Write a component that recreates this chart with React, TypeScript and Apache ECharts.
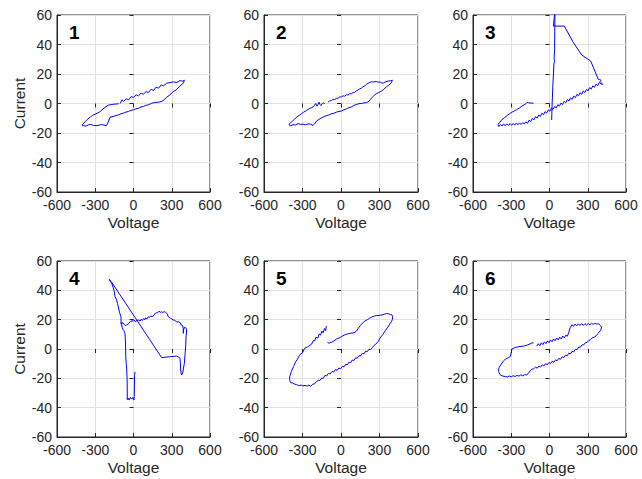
import React, { useEffect, useRef } from "react";
import * as echarts from "echarts";

const FONT = '"Liberation Sans", Arial, Helvetica, sans-serif';

const panelLabels = ["1", "2", "3", "4", "5", "6"];
const xName = "Voltage";
const yName = "Current";
const xRange = [-600, 600, 300];
const yRange = [-60, 60, 20];

const curve1: number[][] = [
  [-104, 0], [-91, 2.5], [-78, 1.4], [-57, 3.2], [-39, 2.5], [-18, 4.7], [0, 4.1], [21, 5.9], [39, 5.2],
  [60, 7.0], [78, 6.3], [99, 8.1], [117, 7.4], [138, 9.7], [157, 8.8], [177, 11.1], [196, 10.4],
  [217, 12.6], [235, 12.0], [261, 13.8], [287, 14.2], [313, 14.7], [339, 14.2], [365, 15.6], [386, 15.1],
  [399, 15.8], [391, 13.8], [365, 12], [339, 9.5], [313, 8.1], [285, 5.8], [261, 4.3], [240, 2.6], [222, 1.4],
  [196, 0.9], [170, 0.7], [143, 0.2], [117, -0.9], [97, -1.2], [78, -2], [58, -2.4], [39, -3.2], [18, -3.6],
  [0, -4.3], [-20, -4.7], [-39, -5.4], [-58, -5.8], [-78, -6.5], [-98, -7.0], [-117, -7.7], [-137, -8.1],
  [-157, -8.8], [-183, -9.2], [-204, -13.8], [-214, -15.1], [-238, -14.4], [-261, -14.4], [-287, -15.0],
  [-313, -14.9], [-335, -14.2], [-352, -14.4], [-372, -15.3], [-391, -15.1], [-404, -14.7],
  [-378, -12.2], [-358, -10.5], [-339, -9.2], [-320, -8.0], [-300, -7.2], [-281, -6.5], [-261, -5.4],
  [-240, -3.8], [-222, -2.5], [-196, -1.1], [-157, -0.5], [-117, -0.2],
];

const curve2: number[][] = [
  [-101, 0.9], [-88, 1.8], [-75, 2.0], [-62, 2.8], [-49, 2.7], [-36, 3.5], [-23, 3.6], [-10, 4.4], [3, 4.5],
  [16, 5.2], [29, 5.0], [42, 5.9], [55, 5.7], [68, 6.6], [81, 6.6], [94, 7.4], [106, 7.5], [119, 8.6],
  [132, 9.1], [145, 9.9], [158, 10.4], [171, 11.4], [184, 11.8], [197, 13.0], [210, 13.6], [223, 14.3],
  [236, 14.7], [255, 14.6], [275, 14.9], [290, 14.5], [306, 14.5], [320, 13.8], [332, 14], [350, 14.8],
  [366, 15.2], [385, 15.4], [400, 15.8], [392, 14], [372, 12.4], [353, 11.3], [334, 9.6], [314, 8.4],
  [295, 7.5], [275, 6.6], [260, 5.6], [244, 4.3], [230, 2.8], [218, 1.6], [197, 0.5], [178, 0.4],
  [158, 0], [140, -0.1], [119, -0.7], [100, -1.3], [81, -2.3], [62, -2.8], [42, -3.6], [22, -4.3],
  [3, -5.2], [-16, -5.4], [-36, -5.9], [-55, -6.6], [-75, -7.0], [-95, -7.8], [-114, -8.2], [-134, -9.0],
  [-153, -9.7], [-172, -10.8], [-192, -12], [-205, -13.6], [-218, -14.9], [-237, -14.0], [-257, -13.8],
  [-276, -14.5], [-296, -14.0], [-315, -14.2], [-335, -13.6], [-355, -14.6], [-374, -14.3],
  [-390, -15.2], [-400, -14.9], [-405, -14.0], [-392, -13.0], [-379, -12], [-361, -10.5], [-343, -9.1],
  [-325, -8.0], [-309, -7], [-290, -5.8], [-270, -4.8], [-257, -4.0], [-244, -3.4], [-230, -2.8],
  [-218, -2.3], [-205, -1.0], [-197, 0], [-187, -1.8], [-179, -0.5], [-171, 0.9], [-163, -0.8],
  [-156, -1.4], [-148, -0.2], [-140, 0.5], [-127, 0],
];

const curve3: number[][] = [
  [-125, 0.2], [-145, 0.3], [-164, 0.5], [-176, 0.7], [-183, 0], [-200, -1.0], [-217, -1.8], [-236, -3.0],
  [-256, -4.1], [-275, -5.0], [-295, -5.9], [-315, -7.0], [-334, -8.2], [-353, -9.6], [-373, -10.9],
  [-390, -12.7], [-404, -14.3], [-397, -15.6], [-385, -14.2], [-372, -15.3], [-360, -13.9], [-347, -15.0],
  [-335, -13.8], [-322, -14.9], [-310, -13.6], [-297, -14.8], [-285, -13.5], [-272, -14.6], [-260, -13.3],
  [-247, -14.4], [-235, -13.2], [-222, -14.2], [-210, -13.0], [-197, -13.8], [-185, -12.4], [-172, -13.4],
  [-160, -11.3], [-147, -12.3], [-135, -10.1], [-122, -11.1], [-110, -8.9], [-97, -9.9], [-85, -7.8],
  [-72, -8.8], [-60, -6.6], [-47, -7.6], [-35, -5.5], [-22, -6.5], [-10, -4.3], [3, -5.3], [15, -3.1],
  [28, -4.1], [40, -2.0], [53, -3.0], [65, -0.8], [78, -1.8], [90, 0.3], [103, -0.7], [115, 1.5],
  [128, 0.5], [140, 2.7], [153, 1.7], [165, 3.8], [178, 2.8], [190, 5.0], [203, 4.0], [215, 6.2],
  [228, 5.2], [240, 7.3], [253, 6.3], [265, 8.5], [278, 7.5], [290, 9.6], [303, 8.6], [315, 10.8],
  [328, 9.8], [340, 12.0], [353, 11.0], [365, 13.1], [378, 12.1], [390, 14.3], [403, 13.3], [417, 12.9],
  [397, 14.9], [404, 15.8], [392, 16.3], [383, 16.3], [323, 28.8], [253, 32.9], [188, 41.2], [116, 52.5],
  [31, 52.5], [43, 64], [40, 36.7], [36, 30.3], [40, 29], [35, 27], [26, 11.8], [20, -1.8], [17, -11.2],
];

const curve4: number[][] = [
  [12, -15.5], [8, -18.0], [6, -32.5], [3, -34.8], [-5, -33.0], [-15, -34.2], [-25, -33.0], [-35, -34.8],
  [-42, -33.5], [-49, -34.5], [-49, -30.0], [-50, -21.0], [-53, -14.3], [-57, -10.0], [-61, -5.2],
  [-62, 2.0], [-65, 8.0], [-67, 10.7], [-75, 12.5], [-80, 13.0], [-88, 14.5], [-93, 16.4], [-90, 18.0],
  [-98, 17.0], [-98, 22.0], [-110, 25.0], [-119, 28.8], [-125, 31.0], [-135, 34.0], [-145, 35.7],
  [-150, 39.0], [-160, 42.0], [-170, 44.5], [-180, 46.0], [-190, 47.5], [-185, 46.5], [-175, 46.0],
  [221, -5.9], [280, -5.3], [339, -4.8], [358, -5.8], [365, -6.4], [368, -10.0], [370, -14.3], [375, -17.0],
  [378, -17.7], [386, -16.5], [392, -13.0], [399, -9.8], [405, -3.0], [409, 1.6], [412, 8.0], [417, 13.0],
  [410, 14.5], [399, 14.8], [393, 13.0], [391, 10.7], [390, 14.0], [385, 16.0], [373, 16.4], [365, 18.0],
  [351, 18.6], [340, 18.2], [325, 19.6], [312, 19.8], [300, 20.5], [290, 21.0], [280, 21.5], [273, 22.0],
  [265, 24.0], [252, 25.0], [240, 25.5], [230, 24.8], [221, 25.4], [210, 25.0], [200, 25.8], [190, 24.8],
  [182, 24.8], [170, 24.3], [160, 23.0], [155, 23.2], [145, 22.0], [135, 22.6], [125, 21.5], [116, 22.0],
  [105, 20.5], [95, 21.2], [90, 20.0], [80, 20.8], [70, 19.5], [60, 20.2], [51, 19.0], [40, 20.0],
  [30, 19.0], [25, 19.5], [15, 18.5], [5, 19.8], [-2, 19.8], [-10, 18.8], [-20, 19.2], [-27, 18.6],
  [-35, 17.5], [-45, 16.8], [-53, 16.4], [-65, 16.0], [-75, 17.0], [-85, 18.0], [-93, 17.5],
];

const curve5: number[][] = [
  [-114, 15.6], [-120, 12.5], [-128, 14.0], [-140, 11.0], [-148, 12.2], [-160, 9.5], [-170, 10.2],
  [-180, 7.5], [-195, 8.0], [-205, 5.5], [-215, 5.8], [-230, 3.2], [-244, 2.5], [-260, 1.5], [-283, 0.5],
  [-300, -2.5], [-322, -4.0], [-340, -7.0], [-353, -8.6], [-370, -12.0], [-387, -15.4], [-400, -19.0],
  [-400, -21.5], [-392, -23.0], [-375, -23.2], [-360, -24.0], [-348, -24.2], [-330, -25.0], [-310, -24.6],
  [-296, -25.2], [-280, -24.8], [-264, -25.3], [-250, -24.6], [-236, -25.4], [-220, -24.0], [-205, -23.6],
  [-192, -22.5], [-178, -21.3], [-165, -21.5], [-150, -19.8], [-138, -20.0], [-125, -18.0], [-112, -18.4],
  [-98, -16.5], [-85, -17.0], [-70, -15.3], [-57, -15.7], [-44, -14.0], [-30, -14.5], [-16, -13.0],
  [-3, -13.5], [10, -11.8], [23, -12.2], [36, -10.4], [49, -10.8], [62, -9.0], [75, -9.3], [88, -7.5],
  [101, -7.8], [114, -6.0], [127, -6.3], [140, -4.5], [153, -4.8], [166, -3.0], [179, -3.3], [192, -1.5],
  [205, -1.8], [218, -0.2], [231, -0.4], [245, 1.0], [258, 2.5], [270, 3.2], [288, 5.0], [305, 7.5],
  [327, 10.0], [345, 12.5], [366, 15.0], [380, 17.0], [392, 18.5], [400, 20.0], [403, 22.0], [398, 23.2],
  [385, 23.5], [370, 24.0], [355, 24.2], [340, 23.8], [320, 23.2], [301, 23.0], [280, 22.8], [260, 22.5],
  [240, 21.8], [223, 21.0], [205, 20.0], [185, 19.0], [165, 17.5], [150, 16.0], [135, 14.0], [118, 12.0],
  [100, 11.0], [80, 10.8], [60, 10.5], [42, 10.0], [25, 9.5], [5, 8.5], [-15, 7.5], [-35, 6.8], [-55, 5.5],
  [-75, 4.5], [-95, 4.0], [-105, 4.5],
];

const curve6: number[][] = [
  [-99, 2.0], [-88, 3.6], [-76, 2.3], [-64, 4.2], [-52, 3.0], [-40, 4.9], [-28, 3.6], [-16, 5.5], [-4, 4.3],
  [8, 6.2], [20, 4.9], [32, 6.8], [44, 5.6], [56, 7.5], [68, 6.2], [80, 8.1], [92, 6.9], [104, 8.8],
  [116, 7.5], [128, 9.4], [140, 8.7], [152, 11.5], [162, 14.5], [175, 16.5], [188, 15.5], [200, 17.0],
  [213, 15.8], [226, 17.2], [239, 16.0], [252, 17.3], [265, 16.1], [278, 17.3], [291, 16.3], [304, 17.4],
  [317, 16.5], [330, 17.5], [343, 16.8], [356, 17.6], [369, 17.0], [384, 17.2], [398, 16.2], [408, 15.0],
  [403, 13.0], [395, 12.2], [380, 10.5], [365, 9.0], [350, 8.0], [335, 7.6], [320, 6.3], [307, 5.7],
  [294, 4.5], [281, 4.3], [268, 2.8], [255, 2.8], [242, 1.2], [229, 1.3], [216, -0.5], [203, -0.2],
  [190, -2.0], [177, -1.6], [164, -3.4], [151, -2.9], [138, -4.7], [125, -4.2], [112, -5.9], [99, -5.3],
  [86, -7.0], [73, -6.4], [60, -8.0], [47, -7.4], [34, -9.0], [21, -8.3], [8, -9.9], [-5, -9.2],
  [-18, -10.8], [-31, -10.0], [-44, -11.6], [-57, -10.8], [-70, -12.4], [-83, -11.6], [-96, -13.1],
  [-109, -12.3], [-125, -13.5], [-140, -13.8], [-151, -14.8], [-165, -16.5], [-178, -17.7], [-195, -17.5],
  [-210, -18.3], [-225, -17.6], [-240, -18.5], [-256, -18.0], [-270, -18.8], [-285, -18.2], [-300, -18.9],
  [-315, -18.4], [-330, -19.0], [-347, -18.8], [-365, -18.5], [-386, -17.7], [-399, -15.5], [-398, -13.1],
  [-380, -10.5], [-360, -8.0], [-347, -7.0], [-320, -5.8], [-308, -5.2], [-300, -2.5], [-295, 0],
  [-270, 1.0], [-240, 1.6], [-203, 2.0], [-170, 2.8], [-140, 4.0], [-125, 4.3],
];

const curves = [curve1, curve2, curve3, curve4, curve5, curve6];

const GRIDS = [
  { left: 57, top: 15, width: 153, height: 177 },
  { left: 264, top: 15, width: 154, height: 177 },
  { left: 473, top: 15, width: 153, height: 177 },
  { left: 57, top: 261, width: 153, height: 176 },
  { left: 264, top: 261, width: 154, height: 176 },
  { left: 473, top: 261, width: 153, height: 176 },
];

const AXIS_COLOR = "#262626";

export default function App() {
  const ref = useRef<HTMLDivElement>(null);
  useEffect(() => {
    document.body.style.margin = "0";
    if (!ref.current) return;
    const chart = echarts.init(ref.current, undefined, { renderer: "svg" });
    const tick = { inside: true, length: 4, lineStyle: { color: AXIS_COLOR, width: 1 } };
    const xAxes: any[] = [];
    const yAxes: any[] = [];
    GRIDS.forEach((_, i) => {
      xAxes.push({
        gridIndex: i, type: "value", min: xRange[0], max: xRange[1], interval: xRange[2],
        name: xName, nameLocation: "middle", nameGap: 22,
        nameTextStyle: { fontSize: 15.5, color: AXIS_COLOR, fontFamily: FONT },
        axisLine: { show: true, onZero: false, lineStyle: { color: AXIS_COLOR, width: 1 } },
        axisTick: tick,
        axisLabel: { color: AXIS_COLOR, fontSize: 14, margin: 6, fontFamily: FONT },
        splitLine: { show: true, lineStyle: { color: "#e2e2e2", width: 1 } },
      });
      yAxes.push({
        gridIndex: i, type: "value", min: yRange[0], max: yRange[1], interval: yRange[2],
        name: i % 3 === 0 ? yName : "", nameLocation: "middle", nameGap: 30,
        nameTextStyle: { fontSize: 15.5, color: AXIS_COLOR, fontFamily: FONT },
        axisLine: { show: true, onZero: false, lineStyle: { color: AXIS_COLOR, width: 1 } },
        axisTick: tick,
        axisLabel: { color: AXIS_COLOR, fontSize: 14, margin: 5, fontFamily: FONT },
        splitLine: { show: true, lineStyle: { color: "#e2e2e2", width: 1 } },
      });
    });
    GRIDS.forEach((_, i) => {
      xAxes.push({
        gridIndex: i, type: "value", position: "top", min: xRange[0], max: xRange[1], interval: xRange[2],
        axisLine: { show: false }, axisTick: tick, axisLabel: { show: false }, splitLine: { show: false },
      });
      yAxes.push({
        gridIndex: i, type: "value", position: "right", min: yRange[0], max: yRange[1], interval: yRange[2],
        axisLine: { show: false }, axisTick: tick, axisLabel: { show: false }, splitLine: { show: false },
      });
    });
    chart.setOption({
      animation: false,
      backgroundColor: "#ffffff",
      grid: GRIDS.map((g) => ({ ...g, show: true, borderColor: AXIS_COLOR, borderWidth: 1, containLabel: false })),
      xAxis: xAxes,
      yAxis: yAxes,
      series: curves.map((data, i) => ({
        type: "line", xAxisIndex: i, yAxisIndex: i, data, showSymbol: false, symbol: "none",
        clip: true, silent: true, lineStyle: { color: "#0000ff", width: 1 },
      })),
      graphic: panelLabels.map((t, i) => ({
        type: "text", left: GRIDS[i].left + 12, top: GRIDS[i].top + 8,
        style: { text: t, font: `bold 19px ${FONT}`, fill: "#000000" },
      })),
    });
    return () => chart.dispose();
  }, []);
  return <div ref={ref} style={{ width: 642, height: 479 }} />;
}
